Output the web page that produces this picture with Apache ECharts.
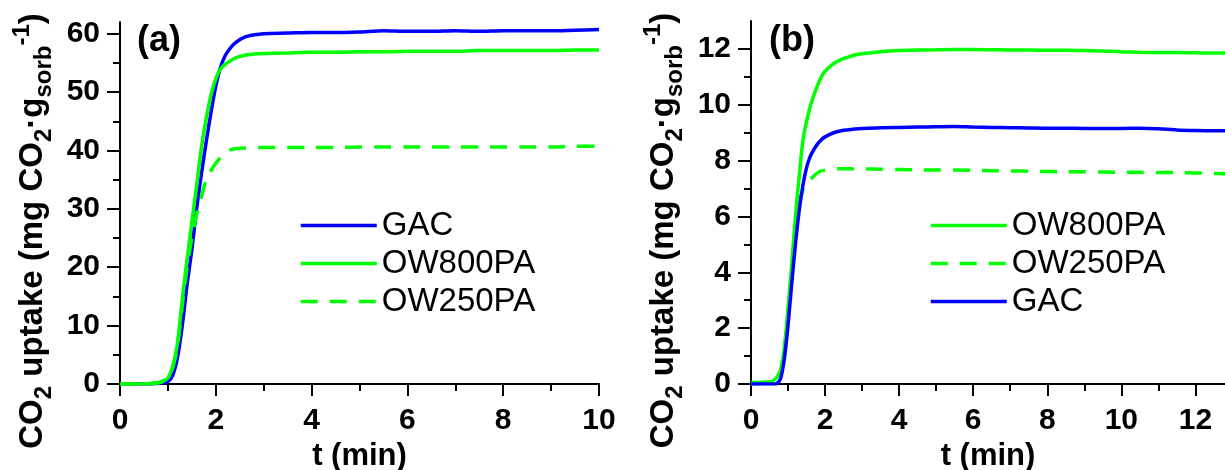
<!DOCTYPE html>
<html>
<head>
<meta charset="utf-8">
<script src="https://cdn.jsdelivr.net/npm/echarts@6/dist/echarts.min.js"></script>
<style>
  html, body { margin: 0; padding: 0; background: #fff; }
  #main { width: 1225px; height: 470px; }
</style>
</head>
<body>
<div id="main"></div>
<script>
// panel (a)
var timeA = [0, 0.5, 0.8, 0.9, 1.0, 1.1, 1.2, 1.3, 1.4, 1.5, 1.6, 1.7, 1.8, 1.9, 2.0, 2.1, 2.2, 2.3, 2.4, 2.6, 2.8, 3.0, 3.5, 4, 4.5, 5, 5.5, 6, 6.5, 7, 7.5, 8, 8.5, 9, 9.5, 10];
var gacA = [0, 0, 0.1, 0.2, 0.4, 1.5, 4.5, 10, 17, 23, 30, 36, 41.5, 46.5, 51, 54.3, 56.3, 57.5, 58.4, 59.4, 59.8, 60.0, 60.1, 60.2, 60.2, 60.3, 60.5, 60.4, 60.4, 60.5, 60.4, 60.5, 60.5, 60.5, 60.6, 60.7];
var ow800A = [0, 0, 0.2, 0.5, 1.0, 3.0, 7.0, 14.5, 21.3, 27.8, 34, 40.5, 45.5, 49.5, 52.3, 54.0, 54.8, 55.3, 55.8, 56.3, 56.5, 56.6, 56.7, 56.8, 56.8, 56.9, 56.9, 57.0, 57.0, 57.0, 57.1, 57.1, 57.1, 57.1, 57.2, 57.2];
var ow250A = [0, 0, 0.2, 0.5, 1.0, 2.8, 6.5, 13.5, 20, 25, 29, 32, 35, 36.6, 37.8, 38.8, 39.6, 40.1, 40.3, 40.4, 40.5, 40.5, 40.5, 40.5, 40.5, 40.6, 40.6, 40.6, 40.6, 40.6, 40.6, 40.6, 40.6, 40.6, 40.7, 40.7];

// panel (b)
var timeB = [0, 0.5, 0.6, 0.7, 0.8, 0.9, 1.0, 1.1, 1.2, 1.3, 1.4, 1.5, 1.6, 1.7, 1.8, 1.9, 2.0, 2.2, 2.4, 2.6, 2.8, 3.0, 3.5, 4, 4.5, 5, 5.5, 6, 6.5, 7, 7.5, 8, 8.5, 9, 9.5, 10, 10.5, 11, 11.5, 12, 12.5, 12.8];
var ow800B = [0.05, 0.08, 0.12, 0.25, 0.5, 1.3, 2.7, 4.3, 6.0, 7.4, 8.7, 9.4, 9.95, 10.35, 10.7, 11.0, 11.2, 11.45, 11.6, 11.7, 11.78, 11.83, 11.9, 11.94, 11.96, 11.97, 11.98, 11.98, 11.97, 11.96, 11.96, 11.95, 11.95, 11.94, 11.93, 11.9, 11.88, 11.87, 11.87, 11.86, 11.85, 11.85];
var ow250B = [0, 0.05, 0.1, 0.2, 0.45, 1.2, 2.6, 4.0, 5.4, 6.4, 6.95, 7.2, 7.32, 7.45, 7.56, 7.63, 7.66, 7.69, 7.71, 7.71, 7.7, 7.7, 7.69, 7.68, 7.67, 7.66, 7.66, 7.65, 7.64, 7.63, 7.62, 7.61, 7.6, 7.6, 7.59, 7.58, 7.58, 7.57, 7.57, 7.56, 7.54, 7.53];
var gacB = [0, 0, 0, 0.02, 0.2, 0.9, 2.1, 3.6, 5.0, 6.2, 7.1, 7.75, 8.15, 8.4, 8.6, 8.75, 8.85, 8.98, 9.06, 9.1, 9.13, 9.15, 9.18, 9.19, 9.2, 9.21, 9.22, 9.2, 9.19, 9.18, 9.17, 9.16, 9.16, 9.15, 9.15, 9.15, 9.16, 9.14, 9.1, 9.08, 9.07, 9.07];

// ticks
var yTicksA = [0, 10, 20, 30, 40, 50, 60];
var xTicksA = [0, 2, 4, 6, 8, 10];
var yTicksB = [0, 2, 4, 6, 8, 10, 12];
var xTicksB = [0, 2, 4, 6, 8, 10, 12];

var blue = '#0000ff';
var green = '#00ff00';
var font = '"Liberation Sans", Arial, sans-serif';

var pair = function (t, v) {
    return t.map(function (x, i) { return [x, v[i]]; });
};

var yName = '{n|CO}{sub|2}{n| uptake (mg CO}{sub|2}{n|·g}{sub|sorb}{sup|-1}{n|)}';
var yNameStyle = {
    fontFamily: font,
    padding: [0, 56, 0, 0],
    rich: {
        n: { fontSize: 33, fontWeight: 'bold', lineHeight: 46, fontFamily: font, color: '#000' },
        sub: { fontSize: 24, fontWeight: 'bold', lineHeight: 46, verticalAlign: 'bottom', fontFamily: font, color: '#000' },
        sup: { fontSize: 24, fontWeight: 'bold', lineHeight: 46, verticalAlign: 'top', fontFamily: font, color: '#000' }
    }
};

var makeX = function (idx, max, ticks) {
    return {
        type: 'value', gridIndex: idx, min: 0, max: max, interval: 2,
        name: 't (min)', nameLocation: 'middle', nameGap: 57,
        nameTextStyle: { fontFamily: font, fontWeight: 'bold', fontSize: 31, color: '#000' },
        axisLine: { onZero: false, lineStyle: { color: '#000', width: 2 } },
        axisTick: { show: true, length: 12, inside: false, customValues: ticks, lineStyle: { color: '#000', width: 2 } },
        minorTick: { show: true, splitNumber: 2, length: 7, lineStyle: { color: '#000', width: 2 } },
        axisLabel: { customValues: ticks, margin: 22, fontFamily: font, fontWeight: 'bold', fontSize: 30, color: '#000' },
        splitLine: { show: false }
    };
};

var makeY = function (idx, max, step, ticks) {
    return {
        type: 'value', gridIndex: idx, min: 0, max: max, interval: step,
        name: yName, nameLocation: 'middle', nameRotate: 90, nameGap: 64,
        nameTextStyle: yNameStyle,
        axisLine: { onZero: false, lineStyle: { color: '#000', width: 2 } },
        axisTick: { show: true, length: 13, customValues: ticks, lineStyle: { color: '#000', width: 2 } },
        minorTick: { show: true, splitNumber: 2, length: 7, lineStyle: { color: '#000', width: 2 } },
        axisLabel: { customValues: ticks, margin: 20, fontFamily: font, fontWeight: 'bold', fontSize: 30, color: '#000' },
        splitLine: { show: false }
    };
};

var line = function (name, xi, data, color, dashed) {
    return {
        name: name, type: 'line', xAxisIndex: xi, yAxisIndex: xi,
        data: data, showSymbol: false, symbol: 'none', smooth: 0.3,
        lineStyle: { color: color, width: 3.5, type: dashed ? [17, 12] : 'solid' },
        itemStyle: { color: color },
        animation: false
    };
};

var legendBase = function (left, names) {
    return {
        orient: 'vertical', left: left, top: 209, padding: 0,
        itemWidth: 76, itemHeight: 2, itemGap: 5,
        data: names,
        selectedMode: false,
        itemStyle: { opacity: 0 },
        lineStyle: { width: 3.5 },
        textStyle: { fontFamily: font, fontSize: 33, lineHeight: 33, color: '#000' }
    };
};

var myChart = echarts.init(document.getElementById('main'), null, { renderer: 'canvas' });

var option = {
    backgroundColor: '#fff',
    animation: false,
    title: [
        { text: '(a)', left: 137, top: 23, padding: 0, textStyle: { fontFamily: font, fontWeight: 'bold', fontSize: 36, color: '#000' } },
        { text: '(b)', left: 769, top: 23, padding: 0, textStyle: { fontFamily: font, fontWeight: 'bold', fontSize: 36, color: '#000' } }
    ],
    legend: [
        legendBase(299, ['GAC', 'OW800PA', 'OW250PA']),
        legendBase(929, ['OW800PA', 'OW250PA', 'GAC'])
    ],
    grid: [
        { left: 120, right: 626, top: 22, bottom: 86, containLabel: false, outerBoundsMode: 'none' },
        { left: 751, right: 0, top: 21, bottom: 86, containLabel: false, outerBoundsMode: 'none' }
    ],
    xAxis: [makeX(0, 10, xTicksA), makeX(1, 12.8, xTicksB)],
    yAxis: [makeY(0, 62, 10, yTicksA), makeY(1, 13, 2, yTicksB)],
    series: [
        line('GAC', 0, pair(timeA, gacA), blue, false),
        line('OW800PA', 0, pair(timeA, ow800A), green, false),
        line('OW250PA', 0, pair(timeA, ow250A), green, true),
        line('OW800PA', 1, pair(timeB, ow800B), green, false),
        line('OW250PA', 1, pair(timeB, ow250B), green, true),
        line('GAC', 1, pair(timeB, gacB), blue, false)
    ]
};

myChart.setOption(option);
</script>
</body>
</html>
